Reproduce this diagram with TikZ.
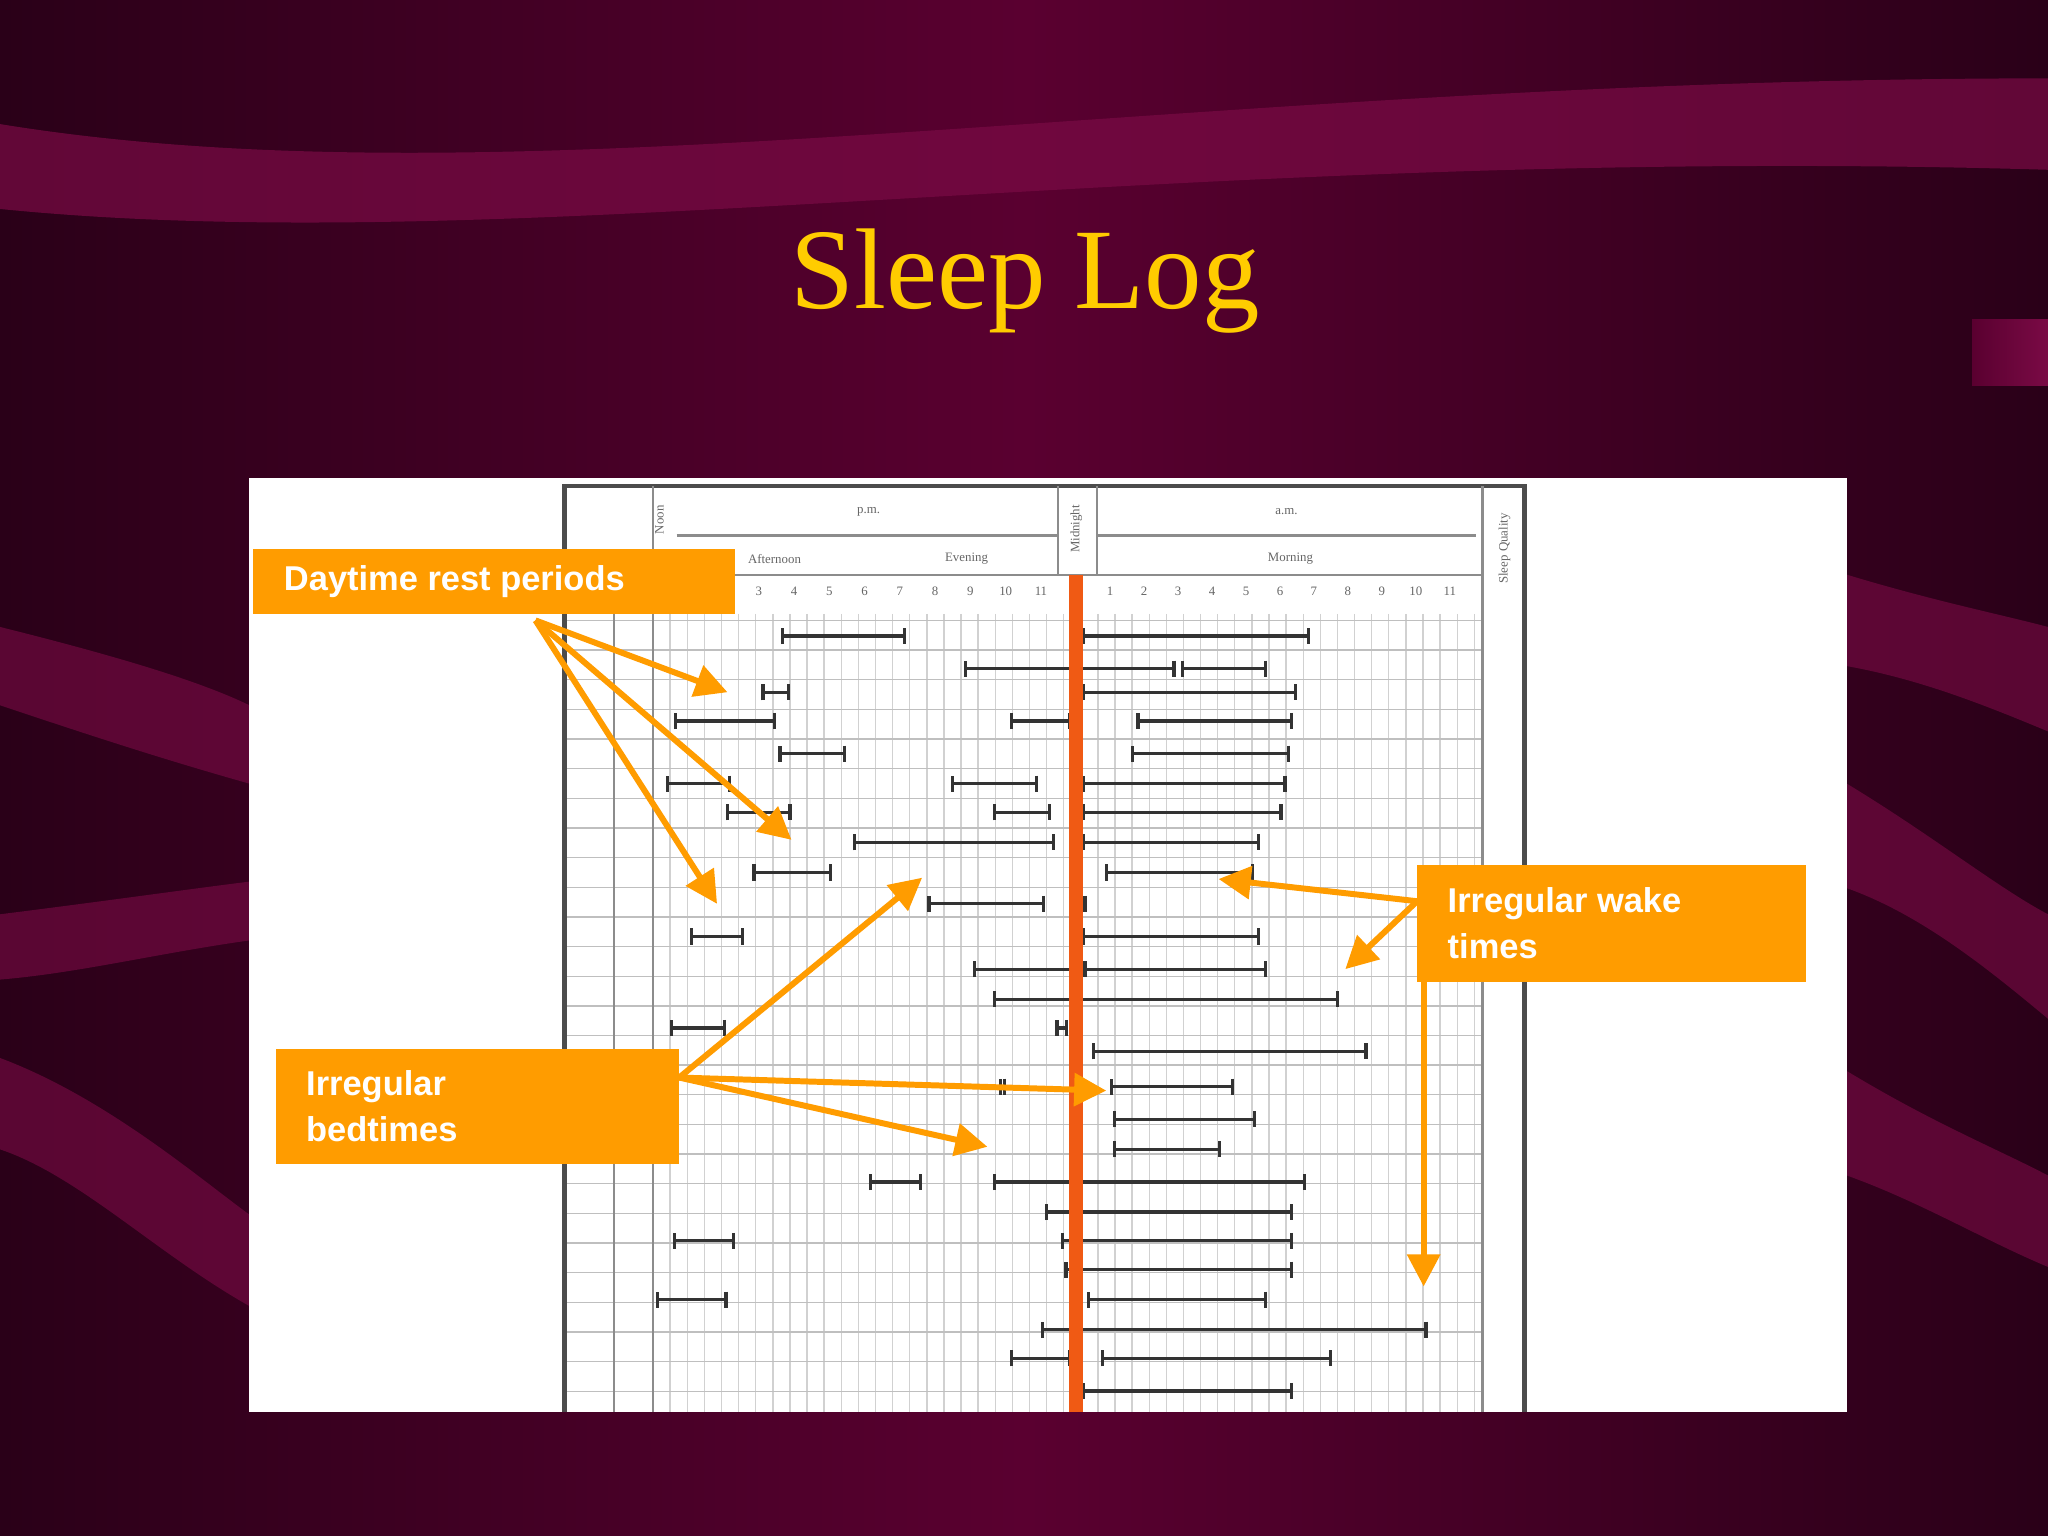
\documentclass[tikz,border=0pt]{standalone}
\usepackage{fontspec}
\setmainfont{Liberation Serif}
\newfontfamily\lab{Liberation Sans}
\usetikzlibrary{arrows.meta}
\definecolor{bgA}{HTML}{5A0030}
\definecolor{bgB}{HTML}{2A0018}
\definecolor{band}{HTML}{7A0A45}
\definecolor{ttl}{HTML}{FFCC00}
\definecolor{org}{HTML}{FF9C00}
\definecolor{redl}{HTML}{F05A14}
\tikzset{
 lbltext/.style={font=\lab\bfseries\fontsize{7.5}{10}\selectfont,text=white,anchor=west,align=left},
 oarr/.style={org,line width=1.3pt,-{Triangle[length=7pt,width=7pt]}},
 bar/.style={black!80,line width=0.7pt,{Bar[width=3.5pt]}-{Bar[width=3.5pt]}},
 tiny/.style={font=\fontsize{2.8}{3}\selectfont,text=black!60}
}
\begin{document}
\begin{tikzpicture}[x=0.01cm,y=-0.01cm]
\useasboundingbox (0,0) rectangle (1568,1176);
\shade[left color=bgB,right color=bgB,middle color=bgA] (0,0) rectangle (1568,1176);
% wavy bands
\fill[band,opacity=0.7] (0,95) .. controls (400,160) and (900,60) .. (1568,60) -- (1568,130) .. controls (900,110) and (400,200) .. (0,160) -- cycle;
\fill[band,opacity=0.6] (0,480) .. controls (80,500) and (150,520) .. (191,540) -- (191,600) .. controls (120,580) and (60,560) .. (0,540) -- cycle;
\fill[band,opacity=0.6] (0,700) .. controls (80,690) and (150,680) .. (191,675) -- (191,720) .. controls (120,730) and (60,745) .. (0,750) -- cycle;
\fill[band,opacity=0.6] (0,810) .. controls (80,840) and (150,900) .. (191,930) -- (191,1000) .. controls (120,960) and (60,900) .. (0,880) -- cycle;
\fill[band,opacity=0.6] (1414,440) .. controls (1480,460) and (1530,470) .. (1568,480) -- (1568,560) .. controls (1520,540) and (1470,520) .. (1414,510) -- cycle;
\fill[band,opacity=0.6] (1414,600) .. controls (1480,640) and (1530,680) .. (1568,700) -- (1568,780) .. controls (1520,740) and (1470,700) .. (1414,680) -- cycle;
\fill[band,opacity=0.6] (1414,820) .. controls (1480,860) and (1530,880) .. (1568,900) -- (1568,970) .. controls (1520,950) and (1470,920) .. (1414,900) -- cycle;
\shade[left color=bgA,right color=band] (1510,245) rectangle (1568,295);
\node[text=ttl,font=\fontsize{25}{30}\selectfont] (title) at (785,215) {Sleep Log};
% white panel
\fill[white] (191,366) rectangle (1414,1081);
% grid
\foreach \i in {0,...,48} \draw[black!18,line width=0.3pt] ({500+\i*13.1},470) -- ({500+\i*13.1},1081);
\foreach \j in {0,...,26} \draw[black!25,line width=0.3pt] (432,{475+\j*22.7}) -- (1135,{475+\j*22.7});
\draw[black!70,line width=1pt] (432,1081) -- (432,372) -- (1167,372) -- (1167,1081);
\draw[black!45,line width=0.5pt] (500,372) -- (500,1081) (1135,372) -- (1135,1081) (518,410) -- (810,410) (840,410) -- (1130,410) (500,440) -- (1135,440) (810,372) -- (810,440) (840,372)--(840,440) (470,470)--(470,1081);
\node[tiny] (pm) at (665,392) {p.m.};
\node[tiny] (am) at (985,392) {a.m.};
\node[tiny] (aft) at (593,428) {Afternoon};
\node[tiny] (eve) at (740,428) {Evening};
\node[tiny] (mor) at (988,428) {Morning};
\node[tiny,rotate=90] (mid) at (824,405) {Midnight};
\node[tiny,rotate=90] (noon) at (505,398) {Noon};
\node[tiny,rotate=90] (sq) at (1152,420) {Sleep Quality};
\foreach \k in {1,...,11} {
 \node[tiny] at ({500+\k*27},453) {\k};
 \node[tiny] at ({824+\k*26},453) {\k};
}
% bars
\foreach \a/\b/\y in {598/694/487,828/1003/487,738/900/512,904/970/512,583/605/530,828/993/530,516/594/552,773/820/552,870/990/552,596/648/577,866/988/577,510/560/600,728/795/600,828/985/600,556/606/622,760/805/622,828/982/622,653/808/645,828/965/645,576/637/668,846/960/668,710/800/692,820/832/692,528/570/717,828/965/717,745/830/742,830/970/742,760/1025/765,513/556/787,808/818/787,836/1047/805,765/770/832,850/945/832,852/962/857,852/935/880,665/706/905,760/1000/905,800/990/928,515/563/950,812/990/950,815/990/972,502/557/995,832/970/995,797/1093/1018,773/820/1040,843/1020/1040,828/990/1065}
 \draw[bar] (\a,\y) -- (\b,\y);
% midnight line
\draw[redl,line width=3pt] (824,440) -- (824,1081);
% labels
\fill[org] (194,420) rectangle (563,470);
\node[lbltext] (dayt) at (205,445) {Daytime rest periods};
\fill[org] (211,803) rectangle (520,891);
\node[lbltext] (bedt) at (222,847) {Irregular\\bedtimes};
\fill[org] (1085,662) rectangle (1383,752);
\node[lbltext] (waket) at (1096,707) {Irregular wake\\times};
\coordinate (d0) at (410,475);
\coordinate (b0) at (520,825);
\coordinate (w0) at (1085,690);
\coordinate (w1) at (1090,752);
\coordinate (t1) at (557,530); \coordinate (t2) at (606,643); \coordinate (t3) at (549,692);
\coordinate (t4) at (706,672); \coordinate (t5) at (847,835); \coordinate (t6) at (756,878);
\coordinate (t7) at (933,673); \coordinate (t8) at (1030,742); \coordinate (t9) at (1090,985);
\draw[oarr] (d0) -- (t1); \draw[oarr] (d0) -- (t2); \draw[oarr] (d0) -- (t3);
\draw[oarr] (b0) -- (t4); \draw[oarr] (b0) -- (t5); \draw[oarr] (b0) -- (t6);
\draw[oarr] (w0) -- (t7); \draw[oarr] (w0) -- (t8); \draw[oarr] (w1) -- (t9);
\end{tikzpicture}
\end{document}
